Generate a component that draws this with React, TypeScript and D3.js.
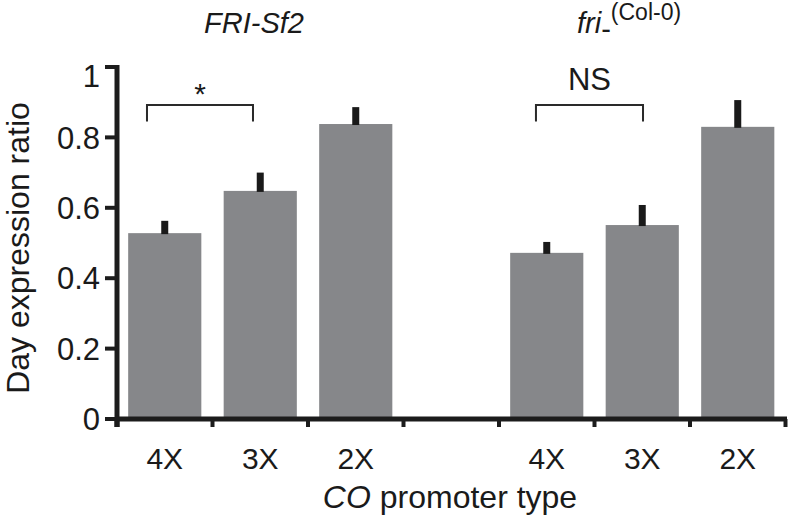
import React from "react";
import * as d3 from "d3";

const categories = ["4X", "3X", "2X"];
const groups = ["FRI-Sf2", "fri"];
const bandKeys = ["g1-4X", "g1-3X", "g1-2X", "gap", "g2-4X", "g2-3X", "g2-2X"];
const valuesFRI = [0.528, 0.648, 0.838];
const errorsFRI = [0.035, 0.052, 0.048];
const valuesFri = [0.472, 0.551, 0.83];
const errorsFri = [0.031, 0.057, 0.076];
const yTicks = [0, 0.2, 0.4, 0.6, 0.8, 1];
const brackets = [
  { from: "g1-4X", to: "g1-3X", f0: 0.314, f1: 0.424, top: 0.892, leg: 0.845, label: "*" },
  { from: "g2-4X", to: "g2-3X", f0: 0.387, f1: 0.508, top: 0.892, leg: 0.845, label: "NS" },
];

const W = 788;
const H = 519;
const FONT = "'Liberation Sans', Arial, Helvetica, sans-serif";

export default function App() {
  const x = d3.scaleBand<string>().domain(bandKeys).range([117, 785.5]).padding(0);
  const y = d3.scaleLinear().domain([0, 1]).range([419, 67]);
  const bw = x.bandwidth();
  const barInset = bw * 0.117;
  const barW = bw - 2 * barInset;

  const bars = [
    ...categories.map((c, i) => ({ key: "g1-" + c, v: valuesFRI[i], e: errorsFRI[i], label: c })),
    ...categories.map((c, i) => ({ key: "g2-" + c, v: valuesFri[i], e: errorsFri[i], label: c })),
  ];

  const boundaries = [...bandKeys.map((k) => x(k) as number), (x(bandKeys[bandKeys.length - 1]) as number) + bw];
  const axisColor = "#1c1c1c";
  const barColor = "#86878a";

  return (
    <svg width={W} height={H} style={{ position: "absolute", left: 0, top: 0, background: "#fff" }} fontFamily={FONT}>
      {/* bars */}
      {bars.map((b) => {
        const bx = (x(b.key) as number) + barInset;
        return (
          <g key={b.key}>
            <rect x={bx} y={y(b.v)} width={barW} height={y(0) - y(b.v)} fill={barColor} />
            <rect x={bx + barW / 2 - 3.5} y={y(b.v + b.e)} width={7} height={y(b.v) - y(b.v + b.e) + 1} fill="#1a1a1a" />
          </g>
        );
      })}
      {/* y axis */}
      <line x1={117} x2={117} y1={y(1) - 2} y2={427} stroke={axisColor} strokeWidth={5} />
      {yTicks.map((t) => (
        <g key={t}>
          <line x1={105} x2={117} y1={y(t)} y2={y(t)} stroke={axisColor} strokeWidth={4} />
          <text
            x={100}
            y={y(t) + (t === 1 ? 9 : 0)}
            dy="0.36em"
            textAnchor="end"
            fontSize={31}
            fill="#1a1a1a"
          >
            {d3.format("~g")(t)}
          </text>
        </g>
      ))}
      {/* x axis */}
      <line x1={115} x2={787} y1={y(0)} y2={y(0)} stroke={axisColor} strokeWidth={5} />
      {boundaries.map((b, i) => (
        <line key={i} x1={b} x2={b} y1={y(0)} y2={427} stroke={axisColor} strokeWidth={i === 0 ? 5 : 4} />
      ))}
      {bars.map((b) => (
        <text key={"l" + b.key} x={(x(b.key) as number) + bw / 2} y={469} textAnchor="middle" fontSize={30} fill="#1a1a1a">
          {b.label}
        </text>
      ))}
      {/* brackets */}
      {brackets.map((br) => {
        const x0 = (x(br.from) as number) + bw * br.f0;
        const x1 = (x(br.to) as number) + bw * br.f1;
        return (
          <g key={br.from}>
            <path
              d={`M${x0},${y(br.leg)}V${y(br.top)}H${x1}V${y(br.leg)}`}
              fill="none"
              stroke="#2a2a2a"
              strokeWidth={2}
            />
            <text
              x={(x0 + x1) / 2}
              y={br.label === "*" ? y(br.top) - 1 : y(br.top) - 15}
              textAnchor="middle"
              fontSize={br.label === "*" ? 30 : 31}
              fill="#1a1a1a"
            >
              {br.label}
            </text>
          </g>
        );
      })}
      {/* group titles */}
      <text x={254} y={33} textAnchor="middle" fontSize={29} fontStyle="italic" fill="#1a1a1a">
        FRI-Sf2
      </text>
      <text x={577} y={33} fontSize={29} fill="#1a1a1a">
        <tspan fontStyle="italic">fri</tspan>
        <tspan dy={6}>-</tspan>
        <tspan dy={-19} fontSize={23}>(Col-0)</tspan>
      </text>
      {/* axis titles */}
      <text transform={`translate(29, 248) rotate(-90)`} textAnchor="middle" fontSize={32} fill="#1a1a1a">
        Day expression ratio
      </text>
      <text x={450} y={508} textAnchor="middle" fontSize={32} fill="#1a1a1a">
        <tspan fontStyle="italic">CO</tspan> promoter type
      </text>
    </svg>
  );
}
